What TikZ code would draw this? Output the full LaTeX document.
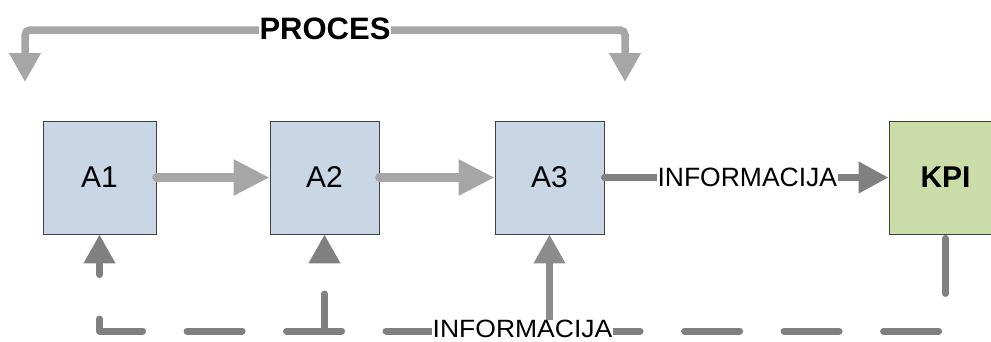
\documentclass[tikz,border=0pt]{standalone}
\usepackage{fontspec}
\setmainfont{Liberation Sans}
\usetikzlibrary{arrows.meta}
\definecolor{boxblue}{HTML}{C9D6E6}
\definecolor{boxgreen}{HTML}{CBDCA8}
\definecolor{boxline}{HTML}{404040}
\definecolor{flowlight}{HTML}{A6A6A6}
\definecolor{flowdark}{HTML}{808080}
\definecolor{flowmid}{HTML}{8C8C8C}
\tikzset{
  activity/.style={draw=boxline, line width=0.9pt, fill=boxblue, inner sep=0pt,
    minimum height=113pt, font=\fontsize{30}{31}\selectfont},
  kpibox/.style={activity, fill=boxgreen, font=\fontsize{30}{31}\selectfont\bfseries},
  flow/.style={draw=flowlight, line width=8.5pt, line cap=round,
    -{Triangle[length=36pt, width=34pt]}},
  procline/.style={draw=flowlight, line width=7.5pt, rounded corners=5pt,
    {Triangle[length=29pt, width=30pt]}-{Triangle[length=29pt, width=30pt]}},
  info/.style={draw=flowdark, line width=7pt, line cap=round, line join=round,
    -{Triangle[length=30pt, width=30pt]}},
  feedback/.style={info, -{Triangle[length=29pt, width=30pt]}},
  infolabel/.style={fill=white, inner xsep=1pt, inner ysep=2pt,
    font=\fontsize{26.5}{27}\selectfont},
  lowlabel/.style={fill=white, inner xsep=1pt, inner ysep=0pt, xscale=1.06,
    font=\fontsize{25}{26}\selectfont},
  proclabel/.style={fill=white, inner xsep=1pt, inner ysep=1pt,
    font=\fontsize{31}{32}\selectfont\bfseries},
}
\begin{document}
\begin{tikzpicture}[x=1pt, y=-1pt]
\useasboundingbox (0,0) rectangle (991,341);
\begin{scope}
\clip (0,0) rectangle (991,341);

% activities and indicator
\node[activity, minimum width=113pt] (A1) at (99.5,177.5) {A1};
\node[activity, minimum width=109pt] (A2) at (324.5,177.5) {A2};
\node[activity, minimum width=109pt] (A3) at (549.5,177.5) {A3};
\node[kpibox, minimum width=113pt] (KPI) at (945.5,177.5) {KPI};

% process flow
\draw[flow] (A1.east) -- (A2.west);
\draw[flow] (A2.east) -- (A3.west);

% process span
\coordinate (pl) at (25,82);
\coordinate (pr) at (625,82);
\coordinate (ptop) at (0,30);
\draw[procline] (pl) -- (pl |- ptop) -- (pr |- ptop) -- (pr);
\node[proclabel] (proc) at (325,29) {PROCES};

% information to the indicator
\draw[info] (A3.east) -- (KPI.west)
  node[infolabel, pos=0.503] (inf1) {INFORMACIJA};

% feedback from the indicator
\coordinate (base) at (0,331);
\draw[feedback, draw=flowmid] (A3.south |- base) -- (A3.south);
\draw[feedback, dash pattern=on 37pt off 100pt] (A2.south |- base) -- (A2.south);
\draw[feedback, dash pattern=on 55pt off 44.5pt, dash phase=95.5pt]
  (KPI.south) -- (KPI.south |- base) -- (A1.south |- base) -- (A1.south);
\node[lowlabel] (inf2) at (522.5,329) {INFORMACIJA};
\end{scope}
\end{tikzpicture}
\end{document}
